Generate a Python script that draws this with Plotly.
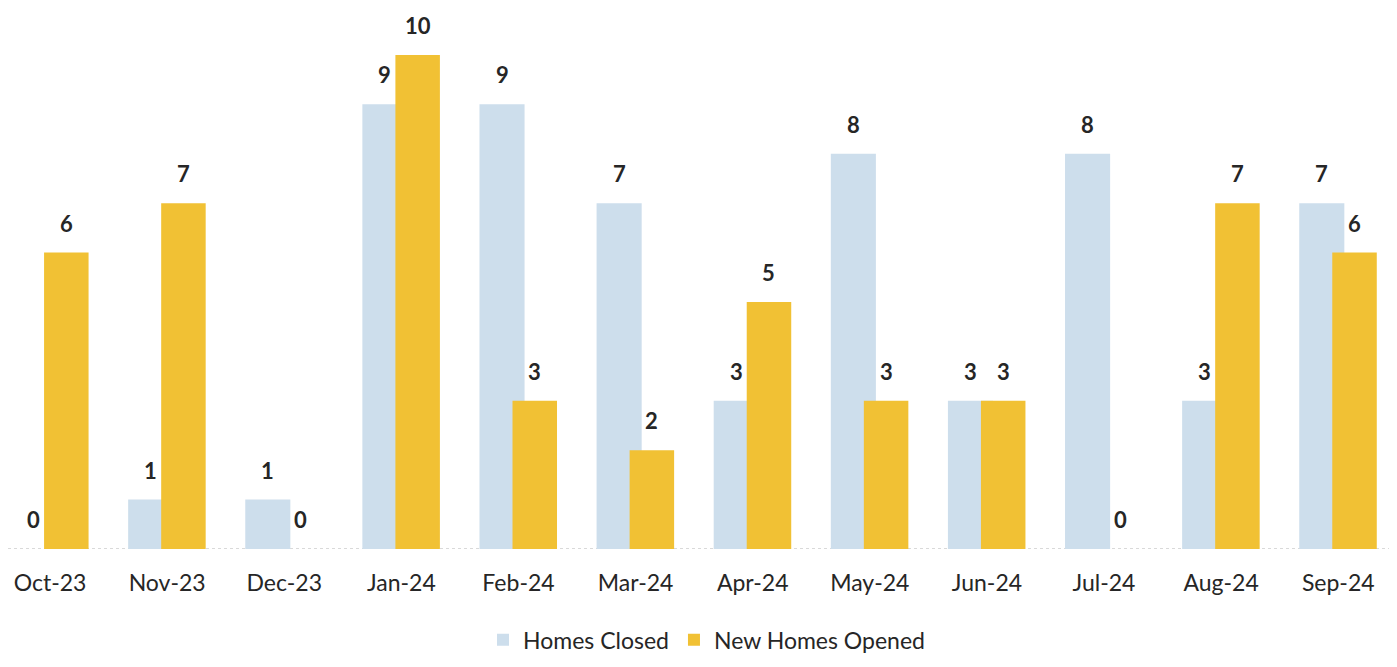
import plotly.graph_objects as go

months = ["Oct-23", "Nov-23", "Dec-23", "Jan-24", "Feb-24", "Mar-24",
          "Apr-24", "May-24", "Jun-24", "Jul-24", "Aug-24", "Sep-24"]
homes_closed = [0, 1, 1, 9, 9, 7, 3, 8, 3, 8, 3, 7]
new_homes_opened = [6, 7, 0, 10, 3, 2, 5, 3, 3, 0, 7, 6]

blue = "rgb(205,222,236)"
yellow = "rgb(241,193,52)"
FONT = "Lato, Open Sans, sans-serif"
label_font = dict(family=FONT, size=22, color="#262626", weight="bold")

PX_PER_CAT = 117.1
series = [
    ("Homes Closed", homes_closed, blue, -0.333, 0.385),
    ("New Homes Opened", new_homes_opened, yellow, -0.051, 0.38),
]

fig = go.Figure()

for name, vals, color, off, w in series:
    fig.add_trace(go.Bar(
        x=months, y=vals, name=name,
        marker=dict(color=color, line=dict(width=0)),
        width=w, offset=off,
    ))
    # value labels above each bar, pushed a little higher than plotly's default
    xs = (off + w / 2) * PX_PER_CAT
    for m, v in zip(months, vals):
        fig.add_annotation(x=m, y=v, text=str(v), showarrow=False,
                           xshift=xs, yshift=14, yanchor="bottom",
                           font=label_font)

# dotted baseline
fig.add_shape(type="line", xref="paper", yref="y", x0=0, x1=1, y0=0, y1=0,
              line=dict(color="rgb(205,205,205)", width=1.5, dash="dot"), layer="below")

fig.update_layout(
    barmode="overlay",
    width=1397, height=667,
    margin=dict(l=0, r=0, t=0, b=126),
    paper_bgcolor="white", plot_bgcolor="white",
    font=dict(family=FONT, size=23, color="#262626"),
    showlegend=True,
    legend=dict(orientation="h", x=0.5, xanchor="center", y=-0.168, yanchor="middle",
                font=dict(family=FONT, size=23, color="#262626"),
                itemwidth=30, traceorder="normal"),
)
fig.update_xaxes(range=[-0.359, 11.57], showgrid=False, showline=False, zeroline=False,
                 ticks="", ticklabelstandoff=18,
                 tickfont=dict(family=FONT, size=23, color="#262626"))
fig.update_yaxes(range=[0, 10.95], showgrid=False, showline=False, zeroline=False,
                 showticklabels=False)

fig.write_html("out.html")
